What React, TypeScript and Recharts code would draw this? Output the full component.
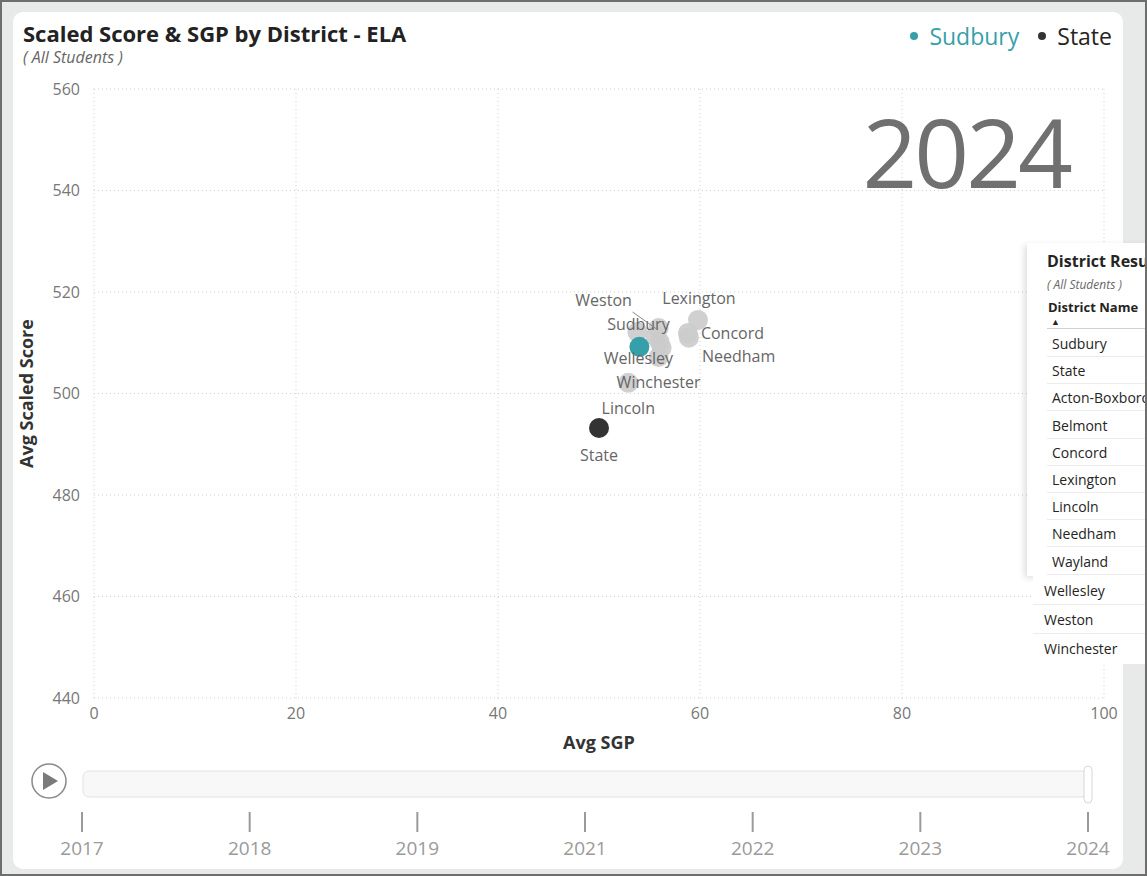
import React from 'react';
import { ScatterChart, Scatter, XAxis, YAxis, ZAxis, CartesianGrid, Legend } from 'recharts';

// 2024 ELA results
const districts = [
  'Sudbury', 'State', 'Acton-Boxborough', 'Belmont', 'Concord', 'Lexington',
  'Lincoln', 'Needham', 'Wayland', 'Wellesley', 'Weston', 'Winchester',
];
const avgSgp = [54.0, 50.0, 56.0, 56.2, 58.8, 59.8, 52.9, 58.9, 55.6, 53.8, 55.9, 55.9];
const avgScaledScore = [509.2, 493.2, 510.2, 509.0, 511.9, 514.5, 502.1, 511.0, 511.3, 512.1, 512.9, 507.2];

const xTicks = [0, 20, 40, 60, 80, 100];
const yTicks = [440, 460, 480, 500, 520, 540, 560];
const years = [2017, 2018, 2019, 2021, 2022, 2023, 2024];
const currentYear = 2024;
const legendOrder = ['Sudbury', 'State'];

const FONT = '"Segoe UI", "Open Sans", sans-serif';
const TEAL = '#36a0aa';
const DARK = '#333333';
const GREY = '#cbcbcb';

// where each data label sits relative to its bubble (px)
const labelPlacement: Record<string, { dx: number; dy: number; anchor: 'start' | 'middle' | 'end'; leader?: boolean }> = {
  State: { dx: 0, dy: 27, anchor: 'middle' },
  Sudbury: { dx: -1, dy: -22, anchor: 'middle' },
  Lincoln: { dx: 0, dy: 26, anchor: 'middle' },
  Winchester: { dx: 0, dy: 25, anchor: 'middle' },
  Wellesley: { dx: 1, dy: 26, anchor: 'middle' },
  Weston: { dx: -55, dy: -28, anchor: 'middle', leader: true },
  Lexington: { dx: 1, dy: -22, anchor: 'middle' },
  Concord: { dx: 13, dy: 0, anchor: 'start' },
  Needham: { dx: 13, dy: 19, anchor: 'start' },
};

const points = districts.map((name, i) => ({ name, sgp: avgSgp[i], score: avgScaledScore[i] }));
const sudbury = points.filter(p => p.name === 'Sudbury');
const state = points.filter(p => p.name === 'State');
const others = points.filter(p => p.name !== 'Sudbury' && p.name !== 'State');

const bubble = (fill: string, opacity = 1) => (props: any) => (
  <circle cx={props.cx} cy={props.cy} r={10} fill={fill} fillOpacity={opacity} />
);

const labelShape = (props: any) => {
  const p = labelPlacement[props.payload?.name];
  if (!p) return <g />;
  const x = props.cx + p.dx;
  const y = props.cy + p.dy;
  return (
    <g>
      {p.leader && (
        <line x1={props.cx - 26} y1={props.cy - 16} x2={props.cx - 2} y2={props.cy + 1} stroke="#888" strokeWidth={1} />
      )}
      <text x={x} y={y} dy="0.35em" textAnchor={p.anchor} fill="#666" fontSize={16} fontFamily={FONT}>
        {props.payload.name}
      </text>
    </g>
  );
};

const LegendContent = ({ payload }: any) => {
  const items = legendOrder
    .map(n => (payload || []).find((it: any) => it.value === n))
    .filter(Boolean);
  return (
    <div style={{ display: 'flex', gap: 19, fontFamily: FONT, fontSize: 23, lineHeight: '30px', whiteSpace: 'nowrap' }}>
      {items.map((item: any) => (
        <div key={item.value} style={{ display: 'flex', alignItems: 'center', gap: 11, color: item.value === 'State' ? '#252423' : item.color }}>
          <span style={{ width: 8, height: 8, borderRadius: 4, background: item.color, display: 'inline-block' }} />
          <span>{item.value}</span>
        </div>
      ))}
    </div>
  );
};

const tableTop = districts.slice(0, 9);
const tableBottom = districts.slice(9);

export default function App() {
  const first = 82;
  const last = 1088;
  const step = (last - first) / (years.length - 1);

  return (
    <div style={{ position: 'absolute', left: 0, top: 0, width: 1147, height: 876, overflow: 'hidden', background: '#e8e9e9', fontFamily: FONT }}>
      {/* card */}
      <div style={{ position: 'absolute', left: 13, top: 12, width: 1110, height: 857, background: '#fff', borderRadius: 10 }} />

      <div style={{ position: 'absolute', left: 23, top: 20, fontSize: 22, lineHeight: '26px', fontWeight: 700, color: '#222', whiteSpace: 'nowrap' }}>
        Scaled Score &amp; SGP by District - ELA
      </div>
      <div style={{ position: 'absolute', left: 23, top: 47, fontSize: 16, lineHeight: '20px', fontStyle: 'italic', color: '#666', whiteSpace: 'nowrap' }}>
        ( All Students )
      </div>

      <div style={{ position: 'absolute', left: 0, top: 0 }}>
        <ScatterChart width={1147} height={760} margin={{ top: 89, right: 43, bottom: 32, left: 10 }}>
          <CartesianGrid stroke="#cfcfcf" strokeDasharray="1 3" />
          <XAxis
            type="number"
            dataKey="sgp"
            domain={[0, 100]}
            ticks={xTicks}
            axisLine={false}
            tickLine={false}
            tickSize={0}
            tickMargin={10}
            height={30}
            tick={{ fill: '#777', fontSize: 16, fontFamily: FONT }}
            label={{ value: 'Avg SGP', position: 'bottom', offset: 8, fill: '#333', fontSize: 18, fontWeight: 700, fontFamily: FONT }}
          />
          <YAxis
            type="number"
            dataKey="score"
            domain={[440, 560]}
            ticks={yTicks}
            axisLine={false}
            tickLine={false}
            tickSize={0}
            tickMargin={14}
            width={84}
            tick={{ fill: '#777', fontSize: 16, fontFamily: FONT }}
            label={{ value: 'Avg Scaled Score', angle: -90, position: 'insideLeft', offset: 17, fill: '#333', fontSize: 18, fontWeight: 700, fontFamily: FONT, style: { textAnchor: 'middle' } }}
          />
          <ZAxis range={[314, 314]} />
          <Legend
            layout="vertical"
            verticalAlign="middle"
            align="center"
            wrapperStyle={{ top: 21, right: 35, left: 'auto', width: 'auto' }}
            content={<LegendContent />}
          />
          <Scatter name="Others" data={others} legendType="none" shape={bubble(GREY, 0.9)} isAnimationActive={false} />
          <Scatter name="Sudbury" data={sudbury} fill={TEAL} shape={bubble(TEAL)} isAnimationActive={false} />
          <Scatter name="State" data={state} fill={DARK} shape={bubble(DARK)} isAnimationActive={false} />
          <Scatter name="Labels" data={points} legendType="none" shape={labelShape} isAnimationActive={false} />
        </ScatterChart>
      </div>

      <div style={{ position: 'absolute', right: 77, top: 103, fontSize: 96, lineHeight: 1, color: '#707070', letterSpacing: -3 }}>
        {currentYear}
      </div>

      {/* play axis */}
      <svg style={{ position: 'absolute', left: 0, top: 0 }} width={1147} height={876}>
        <circle cx={49} cy={781} r={17} fill="#fff" stroke="#8a8a8a" strokeWidth={1.5} />
        <path d="M43 772 L58 781 L43 790 Z" fill="#7a7a7a" />
        <rect x={83} y={771} width={1004} height={26} rx={6} fill="#f8f8f8" stroke="#e2e2e2" />
        <rect x={1084} y={766} width={8} height={37} rx={4} fill="#fff" stroke="#d6d6d6" />
        {years.map((y, i) => (
          <g key={y}>
            <line x1={first + i * step} x2={first + i * step} y1={812} y2={832} stroke="#9a9a9a" strokeWidth={2} />
            <text x={first + i * step} y={855} textAnchor="middle" fill="#9a9a9a" fontSize={19} fontFamily={FONT}>
              {y}
            </text>
          </g>
        ))}
      </svg>

      {/* district results table (clipped at the right edge) */}
      <div style={{ position: 'absolute', left: 1027, top: 243, width: 140, height: 333, background: '#fff', boxShadow: '-3px 2px 6px rgba(0,0,0,0.12)', color: '#252423' }}>
        <div style={{ position: 'absolute', left: 20, top: 7, fontSize: 16, fontWeight: 700, whiteSpace: 'nowrap' }}>District Results</div>
        <div style={{ position: 'absolute', left: 20, top: 33, fontSize: 12, fontStyle: 'italic', color: '#666', whiteSpace: 'nowrap' }}>( All Students )</div>
        <div style={{ position: 'absolute', left: 21, top: 55, fontSize: 13, fontWeight: 700, whiteSpace: 'nowrap' }}>District Name</div>
        <div style={{ position: 'absolute', left: 24, top: 72, fontSize: 9 }}>▲</div>
        <div style={{ position: 'absolute', left: 20, top: 85, width: 120, borderTop: '1px solid #d0d0d0' }} />
        {tableTop.map((name, i) => (
          <div key={name} style={{ position: 'absolute', left: 20, top: 87 + i * 27.2, width: 120, height: 27, borderBottom: '1px solid #ececec', boxSizing: 'border-box', paddingLeft: 5, fontSize: 14, lineHeight: '27px', whiteSpace: 'nowrap' }}>
            {name}
          </div>
        ))}
      </div>
      <div style={{ position: 'absolute', left: 1033, top: 576, width: 130, height: 88, background: '#fff', color: '#252423' }}>
        {tableBottom.map((name, i) => (
          <div key={name} style={{ position: 'absolute', left: 0, top: i * 29, width: 130, height: 29, borderBottom: i < 2 ? '1px solid #ececec' : 'none', boxSizing: 'border-box', paddingLeft: 11, fontSize: 14, lineHeight: '29px', whiteSpace: 'nowrap' }}>
            {name}
          </div>
        ))}
      </div>

      {/* outer frame */}
      <div style={{ position: 'absolute', inset: 0, border: '2px solid #6e6e6e', pointerEvents: 'none' }} />
    </div>
  );
}
